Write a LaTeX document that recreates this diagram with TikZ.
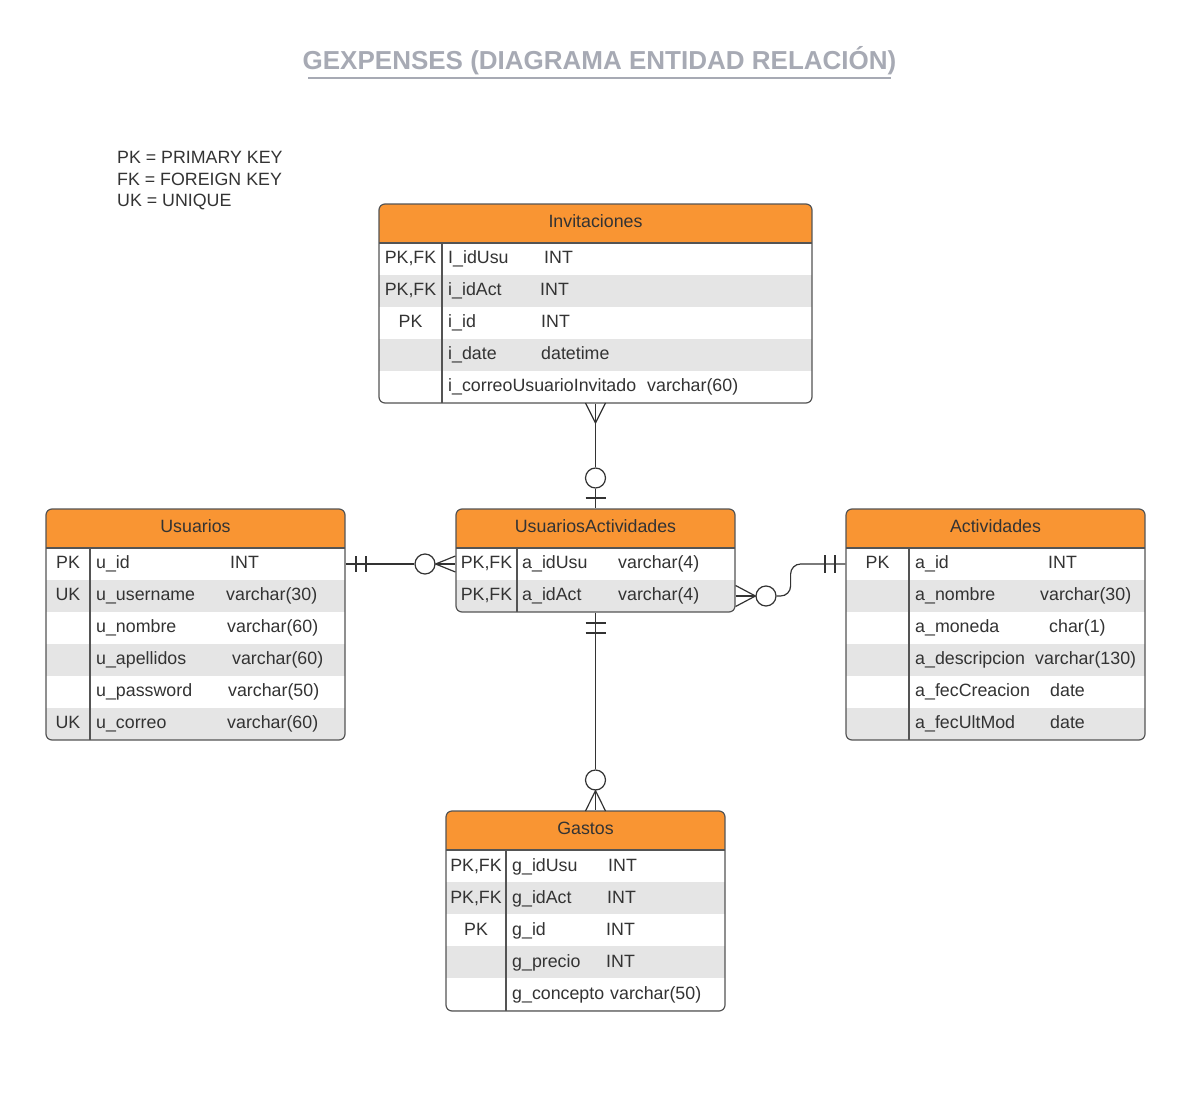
\documentclass[tikz,border=0pt]{standalone}
\usepackage{fontspec}
\setmainfont{Liberation Sans}
\usepackage{xcolor}
\definecolor{hdrorange}{HTML}{F99533}
\definecolor{rowgray}{HTML}{E5E5E5}
\definecolor{linegray}{HTML}{545454}
\definecolor{inkgray}{HTML}{333333}
\definecolor{titlegray}{HTML}{A7AAB4}

\begin{document}
\begin{tikzpicture}
  [x=1pt,y=-1pt,every node/.style={inner sep=0pt,text=inkgray,font=\fontsize{17.8}{21}\selectfont},
   tbl/.style={draw=linegray,line width=1.2pt,rounded corners=6pt,fill=white,
     path picture={
       \fill[hdrorange,sharp corners] (path picture bounding box.north west) rectangle ([yshift=-39pt]path picture bounding box.north east);
       \foreach \j in {71,135,199}
         \fill[rowgray,sharp corners] ([yshift=-\j*1pt]path picture bounding box.north west) rectangle ([yshift=-\j*1pt-32pt]path picture bounding box.north east);
       \draw[linegray,line width=1.2pt,sharp corners] ([yshift=-39pt]path picture bounding box.north west) -- ([yshift=-39pt]path picture bounding box.north east);}},
   ttl/.style={text height=12.5pt,text depth=0pt},
   keytxt/.style={text height=12.5pt,text depth=3.5pt},
   fldtxt/.style={keytxt,anchor=west},
   ring/.style={circle,draw=inkgray,fill=white,line width=1.2pt,minimum size=20pt},
   link/.style={draw=inkgray,line width=1.2pt}]
  \useasboundingbox (0,0) rectangle (1201,1118);

  \node[font=\fontsize{26}{30}\selectfont\bfseries,text=titlegray,text height=18.6pt,text depth=0pt] (title) at (599.5,60) {GEXPENSES (DIAGRAMA ENTIDAD RELACIÓN)};
  \draw[titlegray,line width=2pt] ([xshift=6pt,yshift=-8.7pt]title.south west) -- ([xshift=-6pt,yshift=-8.7pt]title.south east);

  \node[anchor=base west] (pk) at (117,163.4) {PK = PRIMARY KEY};
  \node[anchor=base west] (fk) at (117,185.4) {FK = FOREIGN KEY};
  \node[anchor=base west] (uk) at (117,206.4) {UK = UNIQUE};

  % Invitaciones
  \node[tbl,minimum width=433,minimum height=199] (inv) at (595.5,303.5) {};
  \node[ttl] (inv-h) at (595.5,221) {Invitaciones};
  \foreach \k/\f/\t/\tx [count=\i] in {{PK,FK}/I\_idUsu/INT/544,{PK,FK}/i\_idAct/INT/540,PK/i\_id/INT/541,
      /i\_date/datetime/541,/i\_correoUsuarioInvitado/varchar(60)/647}
  {
    \node[keytxt] (inv-\i) at (410.5,227+32*\i) {\k};
    \node[fldtxt] (inv-f\i) at (448,227+32*\i) {\f};
    \node[fldtxt] (inv-t\i) at (\tx,227+32*\i) {\t};
  }
  \draw[linegray,line width=1.2pt] (442,243) -- (442,403);

  % Usuarios
  \node[tbl,minimum width=299,minimum height=231] (usu) at (195.5,624.5) {};
  \node[ttl] (usu-h) at (195.5,526.5) {Usuarios};
  \foreach \k/\f/\t/\tx [count=\i] in {PK/u\_id/INT/230,UK/u\_username/varchar(30)/226,/u\_nombre/varchar(60)/227,
      /u\_apellidos/varchar(60)/232,/u\_password/varchar(50)/228,UK/u\_correo/varchar(60)/227}
  {
    \node[keytxt] (usu-\i) at (68,532+32*\i) {\k};
    \node[fldtxt] (usu-f\i) at (96,532+32*\i) {\f};
    \node[fldtxt] (usu-t\i) at (\tx,532+32*\i) {\t};
  }
  \draw[linegray,line width=1.2pt] (90,548) -- (90,740);

  % UsuariosActividades
  \node[tbl,minimum width=279,minimum height=103] (ua) at (595.5,560.5) {};
  \node[ttl] (ua-h) at (595.5,526) {UsuariosActividades};
  \foreach \k/\f/\t/\tx [count=\i] in {{PK,FK}/a\_idUsu/varchar(4)/618,{PK,FK}/a\_idAct/varchar(4)/618}
  {
    \node[keytxt] (ua-\i) at (486.5,532+32*\i) {\k};
    \node[fldtxt] (ua-f\i) at (522,532+32*\i) {\f};
    \node[fldtxt] (ua-t\i) at (\tx,532+32*\i) {\t};
  }
  \draw[linegray,line width=1.2pt] (517,548) -- (517,612);

  % Actividades
  \node[tbl,minimum width=299,minimum height=231] (act) at (995.5,624.5) {};
  \node[ttl] (act-h) at (995.5,526) {Actividades};
  \foreach \k/\f/\t/\tx [count=\i] in {PK/a\_id/INT/1048,/a\_nombre/varchar(30)/1040,/a\_moneda/char(1)/1049,
      /a\_descripcion/varchar(130)/1035,/a\_fecCreacion/date/1050,/a\_fecUltMod/date/1050}
  {
    \node[keytxt] (act-\i) at (877.5,532+32*\i) {\k};
    \node[fldtxt] (act-f\i) at (915,532+32*\i) {\f};
    \node[fldtxt] (act-t\i) at (\tx,532+32*\i) {\t};
  }
  \draw[linegray,line width=1.2pt] (909,548) -- (909,740);

  % Gastos
  \node[tbl,minimum width=279,minimum height=200] (gas) at (585.5,911) {};
  \node[ttl] (gas-h) at (585.5,828.5) {Gastos};
  \foreach \k/\f/\t/\tx [count=\i] in {{PK,FK}/g\_idUsu/INT/608,{PK,FK}/g\_idAct/INT/607,PK/g\_id/INT/606,
      /g\_precio/INT/606,/g\_concepto/varchar(50)/610}
  {
    \node[keytxt] (gas-\i) at (476,835+32*\i) {\k};
    \node[fldtxt] (gas-f\i) at (512,835+32*\i) {\f};
    \node[fldtxt] (gas-t\i) at (\tx,835+32*\i) {\t};
  }
  \draw[linegray,line width=1.2pt] (506,851) -- (506,1011);

  % relaciones
  \node[ring] (r1) at (595.5,478) {};
  \draw[link] (inv.south) -- (r1.north);
  \draw[link] (r1.south) -- (ua.north);
  \draw[link] (585.5,403) -- (595.5,423) -- (605.5,403);
  \draw[link] (585.5,498) -- (605.5,498);

  \node[ring] (r2) at (425,564) {};
  \draw[link] (usu.east |- usu-1) -- (r2.west);
  \draw[link] (r2.east) -- (ua.west |- ua-1);
  \draw[link] ([yshift=8pt]ua.west |- ua-1) -- (r2.east) -- ([yshift=-8pt]ua.west |- ua-1);
  \draw[link] (356,556) -- (356,572);
  \draw[link] (366,556) -- (366,572);

  \node[ring] (r3) at (766,596) {};
  \draw[link] (ua.east |- ua-2) -- (r3.west);
  \draw[link] ([yshift=10.5pt]ua.east |- ua-2) -- (r3.west) -- ([yshift=-10.5pt]ua.east |- ua-2);
  \draw[link,rounded corners=10pt] (r3.east) -- ++(14,0) |- (act.west |- act-1);
  \draw[link] (825,555) -- (825,573);
  \draw[link] (835,555) -- (835,573);

  \node[ring] (r4) at (595.5,780) {};
  \draw[link] (ua.south) -- (r4.north);
  \draw[link] (r4.south) -- (ua.south |- gas.north);
  \draw[link] (585.5,811) -- (r4.south) -- (605.5,811);
  \draw[link] (585.5,623) -- (605.5,623);
  \draw[link] (585.5,633) -- (605.5,633);

\end{tikzpicture}
\end{document}
